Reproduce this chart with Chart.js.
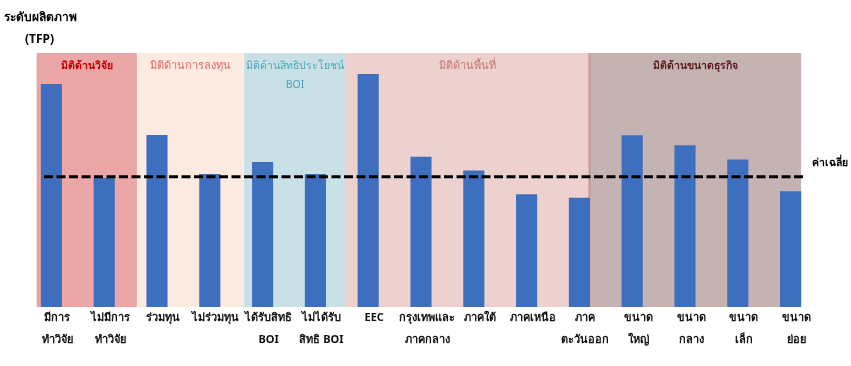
<!DOCTYPE html>
<html lang="th">
<head>
<meta charset="utf-8">
<title>ระดับผลิตภาพ (TFP)</title>
<script src="https://cdn.jsdelivr.net/npm/chart.js"></script>
<style>
  html, body { margin: 0; padding: 0; background: #ffffff; }
  #wrap { position: relative; width: 851px; height: 366px; }
</style>
</head>
<body>
<div id="wrap"><canvas id="tfpChart" width="851" height="366"></canvas></div>
<script>
// Categories (x axis labels)
const categories = [
  ["มีการ", "ทำวิจัย"],
  ["ไม่มีการ", "ทำวิจัย"],
  "ร่วมทุน",
  "ไม่ร่วมทุน",
  ["ได้รับสิทธิ", "BOI"],
  ["ไม่ได้รับ", "สิทธิ BOI"],
  "EEC",
  ["กรุงเทพและ", "ภาคกลาง"],
  "ภาคใต้",
  "ภาคเหนือ",
  ["ภาค", "ตะวันออก"],
  ["ขนาด", "ใหญ่"],
  ["ขนาด", "กลาง"],
  ["ขนาด", "เล็ก"],
  ["ขนาด", "ย่อย"],
]

// TFP level per group (relative units)
const tfpValues = [87.8, 50.8, 67.7, 52.4, 57.1, 52.4, 91.7, 59.2, 53.7, 44.4, 43.0, 67.6, 63.7, 58.1, 45.6]

// Average line
const averageValue = 51.3
const averageLabel = "ค่าเฉลี่ย"

// Dimension groups drawn as shaded bands behind the bars
const groupNames = [["มิติด้านวิจัย"], ["มิติด้านการลงทุน"], ["มิติด้านสิทธิประโยชน์", "BOI"], ["มิติด้านพื้นที่"], ["มิติด้านขนาดธุรกิจ"]]
const groupStart = [-0.28, 1.62, 3.65, 5.58, 10.19]
const groupEnd = [1.62, 3.65, 5.58, 10.19, 14.2]
const groupFill = ["#eba7a8", "#fdeae1", "#c9e1e6", "#edd1ce", "#c5b2b2"]
const groupText = ["#c00000", "#e26b6b", "#4ba6bd", "#c47a72", "#5b1f22"]
const groupFont = ["bold 10.5px ", "11px ", "10.5px ", "11px ", "bold 10.5px "]

const thaiFont = "Tahoma, 'Leelawadee UI', 'Noto Sans', sans-serif"

// Bands, titles and the dashed average line
const decorPlugin = {
  id: "decor",
  beforeDatasetsDraw(chart) {
    const { ctx, chartArea, scales } = chart
    const x = scales.x
    ctx.save()
    groupNames.forEach((name, i) => {
      const left = x.getPixelForValue(groupStart[i])
      const right = x.getPixelForValue(groupEnd[i])
      ctx.fillStyle = groupFill[i]
      ctx.fillRect(left, chartArea.top, right - left, chartArea.bottom - chartArea.top)
    })
    // thin border between area and size bands
    const edge = x.getPixelForValue(groupStart[4])
    ctx.fillStyle = "#c99a98"
    ctx.fillRect(edge - 1, chartArea.top, 2, chartArea.bottom - chartArea.top)

    ctx.textAlign = "center"
    ctx.textBaseline = "middle"
    groupNames.forEach((name, i) => {
      const mid = (x.getPixelForValue(groupStart[i]) + x.getPixelForValue(groupEnd[i])) / 2
      ctx.fillStyle = groupText[i]
      ctx.font = groupFont[i] + thaiFont
      name.forEach((line, j) => {
        ctx.fillText(line, mid, chartArea.top + 13 + j * 19)
      })
    })
    ctx.restore()
  },
  afterDatasetsDraw(chart) {
    const { ctx, scales } = chart
    const y = scales.y.getPixelForValue(averageValue)
    const x0 = scales.x.getPixelForValue(-0.14)
    const x1 = scales.x.getPixelForValue(14.3)
    ctx.save()
    ctx.strokeStyle = "#000000"
    ctx.lineWidth = 3
    ctx.setLineDash([9, 3.5])
    ctx.beginPath()
    ctx.moveTo(x0, y)
    ctx.lineTo(x1, y)
    ctx.stroke()
    ctx.setLineDash([])

    ctx.fillStyle = "#000000"
    ctx.font = "bold 10.5px " + thaiFont
    ctx.textAlign = "left"
    ctx.textBaseline = "middle"
    ctx.fillText(averageLabel, 812, y - 14)

    ctx.font = "bold 12px " + thaiFont
    ctx.fillText("ระดับผลิตภาพ", 4, 18)
    ctx.fillText("(TFP)", 25, 40)
    ctx.restore()
  },
}

const tfpChart = new Chart(document.getElementById("tfpChart"), {
  type: "bar",
  data: {
    labels: categories,
    datasets: [
      {
        label: "TFP",
        data: tfpValues,
        backgroundColor: "#3e6fbe",
        borderWidth: 0,
        barPercentage: 0.8,
        categoryPercentage: 0.5,
      },
    ],
  },
  options: {
    responsive: false,
    animation: false,
    maintainAspectRatio: false,
    layout: {
      padding: { left: 25, right: 34, top: 53, bottom: 15 },
    },
    plugins: {
      legend: { display: false },
      tooltip: { enabled: false },
    },
    scales: {
      x: {
        grid: { display: false, drawTicks: false },
        border: { display: false },
        ticks: {
          color: "#111111",
          padding: 0,
          labelOffset: 6,
          maxRotation: 0,
          autoSkip: false,
          font: { family: thaiFont, size: 11, weight: "bold", lineHeight: 2 },
        },
      },
      y: {
        display: false,
        min: 0,
        max: 100,
      },
    },
  },
  plugins: [decorPlugin],
})
</script>
</body>
</html>
